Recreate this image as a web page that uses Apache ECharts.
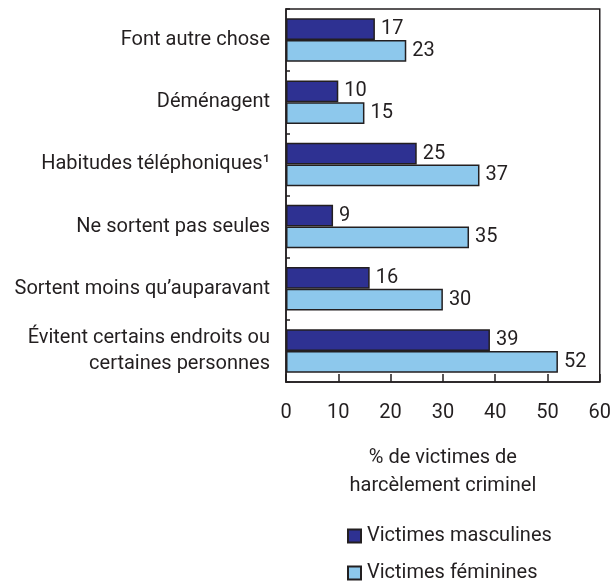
<!DOCTYPE html>
<html>
<head>
<meta charset="utf-8">
<script src="https://cdn.jsdelivr.net/npm/echarts@6/dist/echarts.min.js"></script>
<style>
    html, body { margin: 0; padding: 0; background: #fff; }
    #chart { width: 614px; height: 582px; }
</style>
</head>
<body>
<div id="chart"></div>
<script>
var categories = [
    'Font autre chose',
    'Déménagent',
    'Habitudes téléphoniques¹',
    'Ne sortent pas seules',
    'Sortent moins qu’auparavant',
    'Évitent certains endroits ou\ncertaines personnes'
];
var maleValues = [17, 10, 25, 9, 16, 39];
var femaleValues = [23, 15, 37, 35, 30, 52];
var seriesNames = ['Victimes masculines', 'Victimes féminines'];
var xTicks = { min: 0, max: 60, interval: 10 };

(function () {
    var font = "Roboto, 'Liberation Sans', sans-serif";
    var textColor = '#231f20';
    var lineColor = '#231f20';

    var makeSeries = function (name, data, color) {
        return {
            name: name,
            type: 'bar',
            data: data,
            barGap: '0%',
            barCategoryGap: '30%',
            itemStyle: {
                color: color,
                borderColor: lineColor,
                borderWidth: 1.5
            },
            label: {
                show: true,
                position: 'right',
                distance: 6,
                color: textColor,
                fontFamily: font,
                fontSize: 20
            }
        };
    };

    var makeLegend = function (name, top) {
        return {
            orient: 'vertical',
            left: 342,
            top: top,
            itemWidth: 13,
            itemHeight: 13,
            icon: 'rect',
            data: [name],
            itemStyle: { borderColor: lineColor, borderWidth: 2 },
            textStyle: { fontFamily: font, fontSize: 20, color: textColor, padding: [0, 0, 0, 1] }
        };
    };

    var chart = echarts.init(document.getElementById('chart'));
    chart.setOption({
        animation: false,
        textStyle: { fontFamily: font, color: textColor },
        grid: {
            left: 286,
            right: 11,
            top: 9,
            bottom: 200,
            show: true,
            borderColor: lineColor,
            borderWidth: 1.5
        },
        legend: [
            makeLegend(seriesNames[0], 521),
            makeLegend(seriesNames[1], 558)
        ],
        xAxis: {
            type: 'value',
            min: xTicks.min,
            max: xTicks.max,
            interval: xTicks.interval,
            name: '% de victimes de\nharcèlement criminel',
            nameLocation: 'middle',
            nameGap: 62,
            nameTextStyle: { fontFamily: font, fontSize: 20, color: textColor, lineHeight: 28 },
            splitLine: { show: false },
            axisLine: { show: true, lineStyle: { color: lineColor, width: 1.5 } },
            axisTick: { show: true, inside: true, length: 8, lineStyle: { color: lineColor, width: 1.5 } },
            axisLabel: { fontFamily: font, fontSize: 20, color: textColor, margin: 21 }
        },
        yAxis: {
            type: 'category',
            inverse: true,
            data: categories,
            axisLine: { show: true, lineStyle: { color: lineColor, width: 1.5 } },
            axisTick: { show: true, inside: true, length: 4, lineStyle: { color: lineColor, width: 1.5 } },
            axisLabel: {
                fontFamily: font,
                fontSize: 20,
                color: textColor,
                margin: 16,
                lineHeight: 26,
                align: 'right'
            }
        },
        series: [
            makeSeries(seriesNames[0], maleValues, '#2e3192'),
            makeSeries(seriesNames[1], femaleValues, '#8dc8ec')
        ]
    });

    window.addEventListener('resize', function () {
        chart.resize();
    });
})();
</script>
</body>
</html>
